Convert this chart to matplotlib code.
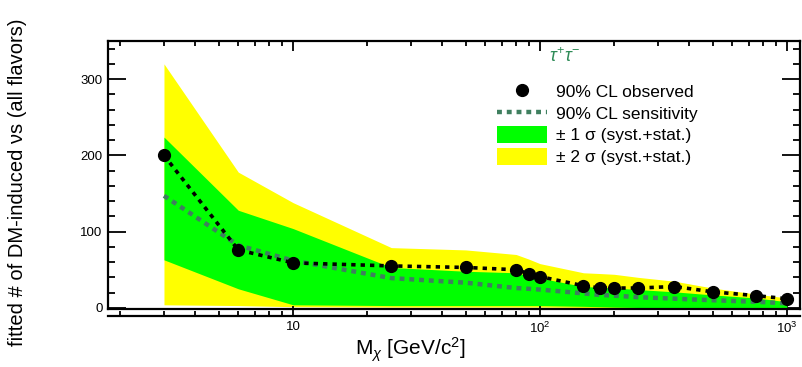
import matplotlib
matplotlib.use('Agg')
import matplotlib.pyplot as plt
from matplotlib.lines import Line2D
from matplotlib.patches import Patch
from matplotlib.ticker import FixedLocator, MultipleLocator, LogLocator, NullFormatter
import numpy as np

plt.rcParams['font.family'] = ['Liberation Sans', 'DejaVu Sans']
plt.rcParams['mathtext.fontset'] = 'custom'
plt.rcParams['mathtext.rm'] = 'Liberation Sans'
plt.rcParams['mathtext.it'] = 'Liberation Sans:italic'

# DM mass points (GeV/c^2)
mass = [3, 6, 10, 25, 50, 80, 90, 100, 150, 175, 200, 250, 350, 500, 750, 1000]
# 90% CL observed and sensitivity
observed = [200, 76, 59, 55, 53, 50, 45, 41, 29, 26, 26, 26, 28, 21, 16, 12]
sensitivity = [147, 82, 62, 39, 33, 26, 25, 24, 19, 17, 16, 14, 12, 10, 8, 6]
# bands
sig1_up = [224, 128, 104, 53, 48, 46, 42, 39, 28, 27, 26, 24, 21, 17, 13, 8]
sig1_lo = [63, 25, 4, 3, 3, 3, 3, 3, 2, 1.5, 1, 0.5, 0.5, 0.5, 0.5, 0.5]
sig2_up = [320, 178, 138, 79, 76, 70, 64, 58, 46, 45, 44, 40, 35, 26, 18, 13]
sig2_lo = [4, 3, 1.5, 1, 1, 1, 1, 1, 0.5, 0.5, 0.3, 0, 0, 0, 0, 0]

yellow = '#ffff00'
green = '#00ff00'
sens_color = '#3f7f5f'

fig = plt.figure(figsize=(8.02, 3.67), dpi=100)
ax = fig.add_axes([108 / 802, 1 - 309 / 367, (800 - 108) / 802, (309 - 41) / 367])

ax.fill_between(mass, sig2_lo, sig2_up, color=yellow, linewidth=0, zorder=1)
ax.fill_between(mass, sig1_lo, sig1_up, color=green, linewidth=0, zorder=2)
ax.plot(mass, sensitivity, color=sens_color, linewidth=3.2, linestyle=(0, (1.1, 1.1)), zorder=3)
ax.plot(mass, observed, color='black', linewidth=2.6, linestyle=(0, (1.2, 1.4)), zorder=4)
ax.plot(mass, observed, 'o', color='black', markersize=8.5, linestyle='none', zorder=5)

ax.set_xscale('log')
ax.set_xlim(1.78, 1130)
ax.set_ylim(-1.5, 350)

# ticks
ax.yaxis.set_major_locator(FixedLocator([0, 100, 200, 300]))
ax.yaxis.set_minor_locator(MultipleLocator(20))
ax.xaxis.set_major_locator(FixedLocator([10, 100, 1000]))
ax.xaxis.set_minor_locator(LogLocator(base=10, subs=np.arange(2, 10)))
ax.xaxis.set_minor_formatter(NullFormatter())
ax.set_xticklabels(['10', '$10^{2}$', '$10^{3}$'])
ax.tick_params(axis='both', which='both', direction='in', top=True, right=True, width=1.3, labelsize=9.5, colors='black')
ax.tick_params(axis='y', which='major', length=13, pad=4)
ax.tick_params(axis='y', which='minor', length=5)
ax.tick_params(axis='x', which='major', length=7, pad=3.5)
ax.tick_params(axis='x', which='minor', length=3.5)

for s in ax.spines.values():
    s.set_linewidth(1.6)
ax.spines['bottom'].set_position(('outward', 5))
# frame line at bottom of plotting area
ax.plot([0, 1], [0, 0], transform=ax.transAxes, color='black', linewidth=1.6, clip_on=False, zorder=6)
ax.set_facecolor('white')

fig.text(410 / 802, 1 - 350 / 367, r'M$_{\chi}$ [GeV/c$^{2}$]', fontsize=15, ha='center', va='center')
fig.text(18 / 802, 1 - 182 / 367, 'fitted # of DM-induced νs (all flavors)', fontsize=14.5,
         rotation=90, ha='center', va='center')

ax.text(0.66, 0.94, r'$\tau^{+}\tau^{-}$', transform=ax.transAxes, color='#2e8b57',
        fontsize=13, ha='center', va='center', family=['Liberation Serif', 'DejaVu Serif'])

handles = [
    Line2D([], [], marker='o', color='black', markersize=8.5, linestyle='none'),
    Line2D([], [], color=sens_color, linewidth=3.2, linestyle=(0, (1.1, 1.1))),
    Patch(facecolor=green, edgecolor='none'),
    Patch(facecolor=yellow, edgecolor='none'),
]
labels = ['90% CL observed', '90% CL sensitivity', '± 1 σ (syst.+stat.)', '± 2 σ (syst.+stat.)']
ax.legend(handles, labels, loc='upper left', bbox_to_anchor=(0.545, 0.89), frameon=False,
          fontsize=12.5, handlelength=2.87, handleheight=1.1, labelspacing=0.26, handletextpad=0.5,
          borderpad=0.2)

fig.savefig('out.png', dpi=100)
